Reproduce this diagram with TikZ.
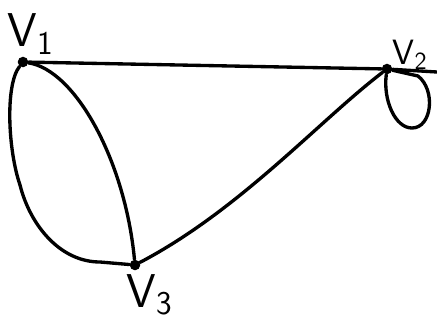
\documentclass[tikz,border=0pt]{standalone}
\usepackage{tikz}
\usetikzlibrary{positioning}
\tikzset{
  vertex/.style={circle, fill=black, inner sep=0pt, minimum size=6pt},
  edge/.style={line width=1.9pt, line cap=round, line join=round},
  vlabel/.style={font=\sffamily\fontsize{27}{30}\selectfont, inner sep=0pt}
}

\begin{document}
\begin{tikzpicture}[x=0.02cm, y=-0.02cm]
    \useasboundingbox (0,0) rectangle (437,322);
    % vertices
    \node[vertex] (v1) at (23,62) {};
    \node[vertex] (v2) at (387,69) {};
    \node[vertex] (v3) at (135,265) {};
    % labels
    \node[vlabel] (l1) at (31,34) {V\textsubscript{1}};
    \node[vlabel, font=\sffamily\fontsize{20}{24}\selectfont] (l2) at (410,55) {V\textsubscript{2}};
    \node[vlabel] (l3) at (150,295) {V\textsubscript{3}};
    % edges
    \draw[edge] (v1) -- (v2);
    \draw[edge] (v1) .. controls (5,85) and (8,150) .. (20,185)
        .. controls (30,225) and (60,262) .. (100,262) -- (v3);
    \draw[edge] (v1) .. controls (75,70) and (125,160) .. (v3);
    \draw[edge] (v3) .. controls (240,210) and (320,120) .. (v2);
    \draw[edge] (v2) .. controls (383,100) and (395,128) .. (412,128)
        .. controls (432,128) and (436,90) .. (418,76) -- (v2);
    \coordinate (tail) at (437,72);
    \draw[edge] (v2) -- (tail);
  \end{tikzpicture}
\end{document}
